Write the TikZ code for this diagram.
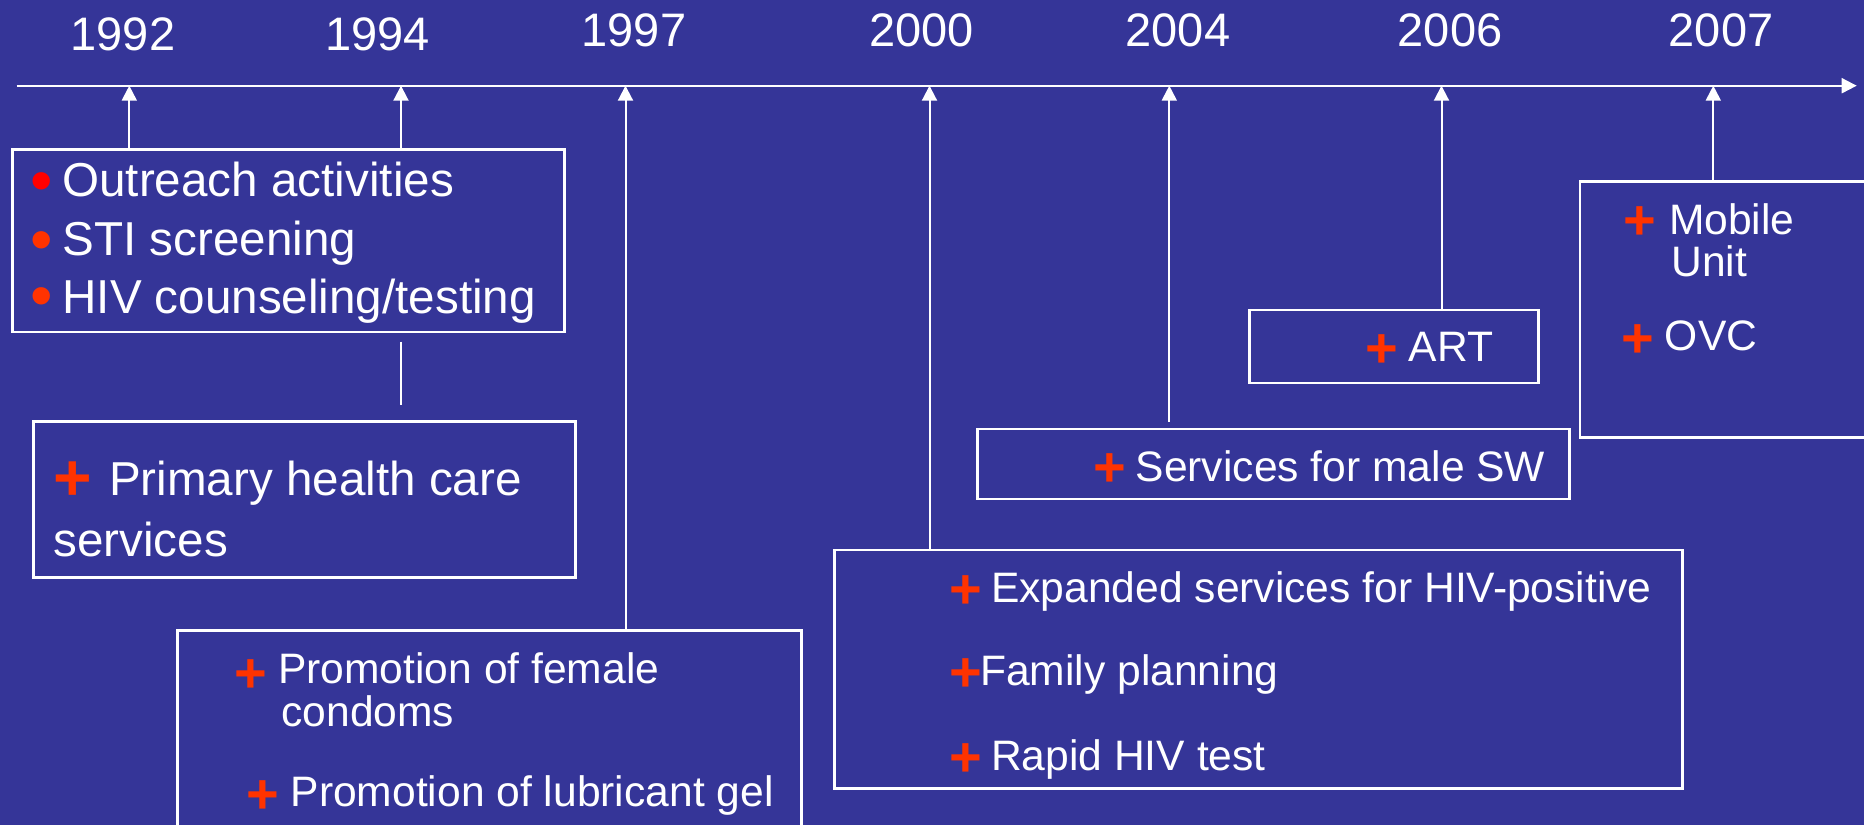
\documentclass[tikz,border=0pt]{standalone}
\usepackage{fontspec}
\setmainfont{Liberation Sans}
\usetikzlibrary{arrows.meta,fit}
\definecolor{bg}{RGB}{53,53,152}
\definecolor{plusred}{RGB}{255,51,0}
\definecolor{bulred}{RGB}{255,0,0}
\begin{document}
\begin{tikzpicture}[x=0.5pt,y=-0.5pt,
 yr/.style={anchor=base,inner sep=0pt,text=white,font=\fontsize{23.5}{28}\selectfont},
 big/.style={anchor=base west,inner sep=0pt,text=white,font=\fontsize{23.8}{28}\selectfont},
 sml/.style={anchor=base west,inner sep=0pt,text=white,font=\fontsize{21.3}{26}\selectfont},
 pl/.style={anchor=base,inner sep=0pt,text=plusred,font=\bfseries\fontsize{28}{30}\selectfont},
 bigpl/.style={pl,font=\bfseries\fontsize{33}{36}\selectfont},
 bul/.style={anchor=base,inner sep=0pt,text=plusred,font=\fontsize{32}{32}\selectfont},
 box/.style={draw=white,line width=1.25pt,inner sep=0pt,outer sep=0pt},
 up/.style={draw=white,line width=1pt,-{Triangle[length=7.5pt,width=7.5pt]}},
 ln/.style={draw=white,line width=0.8pt}]
\useasboundingbox (0,0) rectangle (1864,825);
\fill[bg] (0,0) rectangle (1864,825);
\clip (0,0) rectangle (1864,825);

% axis
\coordinate (axL) at (16.7,85.7);
\coordinate (axR) at (1856.7,85.7);
\draw[up] (axL) -- (axR);

% year ticks
\coordinate (y1992) at (129.3,85.7);
\coordinate (y1994) at (401,85.7);
\coordinate (y1997) at (625.5,85.7);
\coordinate (y2000) at (929.5,85.7);
\coordinate (y2004) at (1169.3,85.7);
\coordinate (y2006) at (1441.5,85.7);
\coordinate (y2007) at (1713.3,85.7);

% year labels
\node[yr] (l1992) at (123,50) {1992};
\node[yr] (l1994) at (377.5,50) {1994};
\node[yr] (l1997) at (634,46.7) {1997};
\node[yr] (l2000) at (921.5,46.7) {2000};
\node[yr] (l2004) at (1178,46.7) {2004};
\node[yr] (l2006) at (1450,46.7) {2006};
\node[yr] (l2007) at (1721,46.7) {2007};

% boxes
\node[box, fit={(12.6,149.3) (564.5,332)}] (b1) {};
\node[box, fit={(33.3,421.7) (575.5,577.7)}] (b2) {};
\node[box, fit={(177.4,630.7) (801.5,900)}] (b3) {};
\node[box, fit={(834.3,550) (1682.5,788.3)}] (b4) {};
\node[box, fit={(977.3,429) (1569.5,499)}] (b5) {};
\node[box, fit={(1249.3,310) (1538.6,383)}] (b6) {};
\node[box, fit={(1580,181.7) (1900,437.7)}] (b7) {};

% connectors
\draw[up] (y1992 |- b1.north) -- (y1992);
\draw[up] (y1994 |- b1.north) -- (y1994);
\draw[ln, shorten <=4.85pt, shorten >=8.35pt] (y1994 |- b1.south) -- (y1994 |- b2.north);
\draw[up] (y1997 |- b3.north) -- (y1997);
\draw[up] (y2000 |- b4.north) -- (y2000);
\draw[up, shorten <=3.65pt] (y2004 |- b5.north) -- (y2004);
\draw[up] (y2006 |- b6.north) -- (y2006);
\draw[up] (y2007 |- b7.north) -- (y2007);

% box 1
\node[bul, text=bulred] (bu1) at (42.1,202.7) {•};
\node[bul] (bu2) at (42.1,261) {•};
\node[bul] (bu3) at (42.1,317.7) {•};
\node[big] (t11) at (62,196.7) {Outreach activities};
\node[big] (t12) at (62,255) {STI screening};
\node[big] (t13) at (62,313.3) {HIV counseling/testing};

% box 2
\node[bigpl] (p21) at (73,500.3) {+};
\node[big] (t21) at (108.7,495.7) {Primary health care};
\node[big] (t22) at (53,556.7) {services};

% box 3
\node[pl] (p31) at (251.2,692.5) {+};
\node[sml] (t31) at (277.7,683.3) {Promotion of female};
\node[sml] (t32) at (281,726.7) {condoms};
\node[pl] (p32) at (263.3,813.3) {+};
\node[sml] (t33) at (290.2,806.7) {Promotion of lubricant gel};

% box 2000
\node[pl] (p41) at (966.3,608.3) {+};
\node[sml] (t41) at (990.7,602.7) {Expanded services for HIV-positive};
\node[pl] (p42) at (966.3,691.7) {+};
\node[sml] (t42) at (979.8,685.7) {Family planning};
\node[pl] (p43) at (966.3,776.7) {+};
\node[sml] (t43) at (990.7,770) {Rapid HIV test};

% box 2004
\node[pl] (p51) at (1110,486) {+};
\node[sml] (t51) at (1135.3,481) {Services for male SW};

% box ART
\node[pl] (p61) at (1381.7,367.2) {+};
\node[sml] (t61) at (1408.5,361.7) {ART};

% box 2007
\node[pl] (p71) at (1640.3,239.7) {+};
\node[sml] (t71) at (1668.7,234) {Mobile};
\node[sml] (t72) at (1671,276.7) {Unit};
\node[pl] (p72) at (1638.3,357.5) {+};
\node[sml] (t73) at (1664.5,350.7) {OVC};
\end{tikzpicture}
\end{document}
